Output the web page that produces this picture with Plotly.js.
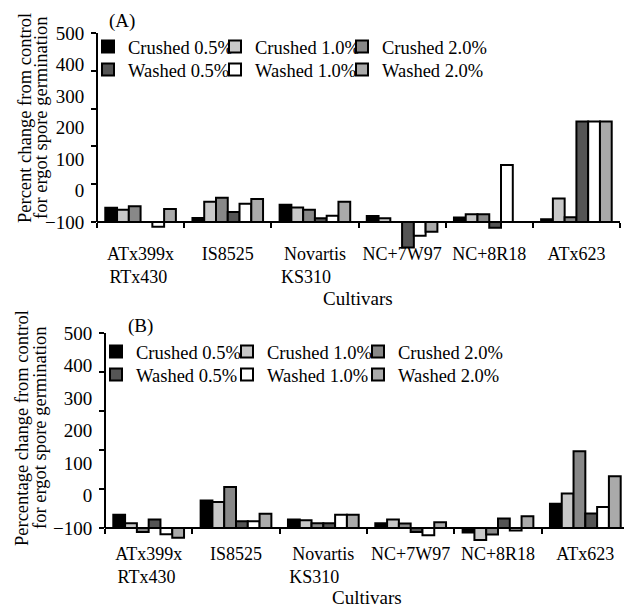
<!DOCTYPE html>
<html><head><meta charset="utf-8">
<script src="https://cdn.plot.ly/plotly-3.0.1.min.js"></script>
<style>html,body{margin:0;padding:0;overflow:hidden;background:#fff}#chart{width:640px;height:607px}</style>
</head><body><div id="chart"></div>
<script>
// ---- data (values read against the printed y-axis labels) ----
const cultivars = ['ATx399x RTx430', 'IS8525', 'Novartis KS310', 'NC+7W97', 'NC+8R18', 'ATx623'];
const cultivarLabels = ['ATx399x<br>RTx430\u00a0', 'IS8525', 'Novartis<br>KS310\u00a0\u00a0\u00a0\u00a0', 'NC+7W97', 'NC+8R18', 'ATx623'];
const seriesNames = ['Crushed 0.5%', 'Crushed 1.0%', 'Crushed 2.0%', 'Washed 0.5%', 'Washed 1.0%', 'Washed 2.0%'];
const yTickVals = [-100, 0, 100, 200, 300, 400, 500];
const BASE = -100;

// Panel (A)
const crushed05A = [-55, -87, -45, -81, -86, -91];
const crushed10A = [-61, -36, -54, -88, -75, -25];
const crushed20A = [-50, -23, -61, -100, -75, -85];
const washed05A  = [-100, -68, -88, -181, -118, 219];
const washed10A  = [-115, -42, -80, -144, 81, 219];
const washed20A  = [-59, -27, -36, -131, -100, 219];

// Panel (B)
const crushed05B = [-59, -15, -74, -85, -114, -25];
const crushed10B = [-85, -20, -76, -74, -137, 6];
const crushed20B = [-112, 26, -85, -86, -120, 136];
const washed05B  = [-74, -79, -85, -112, -71, -55];
const washed10B  = [-119, -79, -59, -122, -108, -35];
const washed20B  = [-130, -56, -59, -82, -64, 59];

const colors = ['#000000', '#c8c8c8', '#888888', '#555555', '#ffffff', '#aaaaaa'];

// ---- layout helpers ----
const W = 640, H = 607;
const fx = p => p / W;
const fy = p => 1 - p / H;
const FAM = 'Liberation Serif, Times New Roman, serif';
const FONT = {family: FAM, size: 19, color: '#000'};
const TFONT = {family: FAM, size: 18.5, color: '#000'};
const XFONT = {family: FAM, size: 18, color: '#000'};

const seriesA = [crushed05A, crushed10A, crushed20A, washed05A, washed10A, washed20A];
const seriesB = [crushed05B, crushed10B, crushed20B, washed05B, washed10B, washed20B];

const traces = [];
seriesA.forEach((vals, i) => traces.push({
  type: 'bar', name: seriesNames[i], x: cultivars, y: vals.map(v => v - BASE), base: BASE,
  xaxis: 'x', yaxis: 'y', legend: i < 3 ? 'legend' : 'legend2', legendwidth: (i % 3 === 2) ? 130 : 82,
  marker: {color: colors[i], line: {color: '#000', width: 2}}, hoverinfo: 'skip'
}));
seriesB.forEach((vals, i) => traces.push({
  type: 'bar', name: seriesNames[i], x: cultivars, y: vals.map(v => v - BASE), base: BASE,
  xaxis: 'x2', yaxis: 'y2', legend: i < 3 ? 'legend3' : 'legend4', legendwidth: (i % 3 === 2) ? 130 : 86,
  marker: {color: colors[i], line: {color: '#000', width: 2}}, hoverinfo: 'skip'
}));
// empty helper traces so the tick-mark overlay axes exist
traces.push({type: 'scatter', x: [], y: [], xaxis: 'x', yaxis: 'y3', showlegend: false, hoverinfo: 'skip'});
traces.push({type: 'scatter', x: [], y: [], xaxis: 'x2', yaxis: 'y4', showlegend: false, hoverinfo: 'skip'});

// panel geometry (pixels)
const A = {left: 97, right: 620, top: 33, base: 222, ymin: -190, standoff: 15};
const B = {left: 105, right: 629, top: 333, base: 528, ymin: -150, standoff: 9};
function yDomain(P) {
  const ppu = (P.base - P.top) / 600;
  const bottom = P.base + (BASE - P.ymin) * ppu;
  return [fy(bottom), fy(P.top)];
}

function xAxis(P) {
  return {
    domain: [fx(P.left), fx(P.right)], anchor: 'free', position: fy(P.base),
    type: 'category', tickmode: 'array', tickvals: cultivars, ticktext: cultivarLabels,
    showline: true, linewidth: 2, linecolor: '#000',
    ticks: 'outside', tickson: 'boundaries', ticklen: 5, tickwidth: 2, tickcolor: '#000',
    showgrid: false, zeroline: false, tickfont: XFONT, tickangle: 0, ticklabelstandoff: P.standoff, fixedrange: true
  };
}
function yAxis(P, xa) {
  return {
    domain: yDomain(P), anchor: xa, range: [P.ymin, 500], tickmode: 'array', tickvals: yTickVals,
    ticks: 'outside', ticklen: 7, tickcolor: 'rgba(0,0,0,0)', showline: false, showgrid: false, zeroline: false,
    tickfont: FONT, ticklabelstandoff: 1, fixedrange: true
  };
}
function tickAxis(P, xa, over) {
  return {
    domain: yDomain(P), anchor: xa, overlaying: over, range: [(P.ymin - BASE) / 120, 5],
    tickmode: 'linear', tick0: 0, dtick: 1, ticks: 'outside', ticklen: 5, tickwidth: 2, tickcolor: '#000',
    showticklabels: false, showline: false, showgrid: false, zeroline: false, fixedrange: true
  };
}
function legend(xp, yp) {
  return {
    orientation: 'h', x: fx(xp), y: fy(yp), xanchor: 'left', yanchor: 'middle',
    bgcolor: 'rgba(0,0,0,0)', borderwidth: 0, font: TFONT,
    itemwidth: 30, traceorder: 'normal', itemclick: false, itemdoubleclick: false
  };
}
function note(text, xp, yp, font, angle) {
  return {text: text, xref: 'paper', yref: 'paper', x: fx(xp), y: fy(yp), xanchor: 'center', yanchor: 'middle',
          showarrow: false, font: font, textangle: angle || 0};
}

const layout = {
  width: W, height: H, margin: {l: 0, r: 0, t: 0, b: 0},
  paper_bgcolor: '#fff', plot_bgcolor: 'rgba(0,0,0,0)',
  barmode: 'group', bargap: 0.19, bargroupgap: 0,
  font: FONT,
  xaxis: xAxis(A), yaxis: yAxis(A, 'x'), yaxis3: tickAxis(A, 'x', 'y'),
  xaxis2: xAxis(B), yaxis2: yAxis(B, 'x2'), yaxis4: tickAxis(B, 'x2', 'y2'),
  legend: legend(88, 47), legend2: legend(88, 70),
  legend3: legend(96, 352), legend4: legend(96, 375),
  shapes: [
    {type: 'line', xref: 'x domain', yref: 'y', x0: 0, x1: 0, y0: BASE, y1: 500, line: {color: '#000', width: 2}},
    {type: 'line', xref: 'x2 domain', yref: 'y2', x0: 0, x1: 0, y0: BASE, y1: 500, line: {color: '#000', width: 2}}
  ],
  annotations: [
    note('(A)', 122, 21, FONT),
    note('(B)', 140, 326, FONT),
    note('Percent change from control', 25, 118, TFONT, -90),
    note('for ergot spore germination', 41, 118, TFONT, -90),
    note('Percentage change from control', 22, 428, TFONT, -90),
    note('for ergot spore germination', 40, 428, TFONT, -90),
    note('Cultivars', 358, 298, FONT),
    note('Cultivars', 367, 597, FONT)
  ]
};

Plotly.newPlot('chart', traces, layout, {displayModeBar: false, staticPlot: true});
</script>
</body></html>
